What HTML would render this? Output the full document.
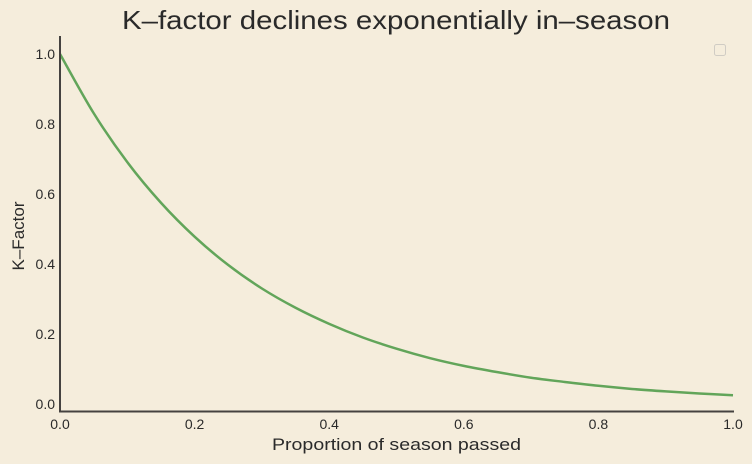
<!DOCTYPE html>
<html><head><meta charset="utf-8"><style>
body{margin:0;background:#f5eddc;}
svg{display:block;font-family:"Liberation Sans",sans-serif;}
</style></head><body>
<svg id="chart" width="752" height="464">
<rect width="752" height="464" fill="#f5eddc"/>
<text x="122" y="29" font-size="26" fill="#2a2a2a" textLength="548" lengthAdjust="spacingAndGlyphs">K–factor declines exponentially in–season</text>
<text x="272" y="450" font-size="17" fill="#2a2a2a" textLength="249" lengthAdjust="spacingAndGlyphs">Proportion of season passed</text>
<text x="0" y="0" transform="translate(24,236) rotate(-90)" font-size="17" fill="#2a2a2a" text-anchor="middle">K–Factor</text>
<g id="ticks"></g>
<path id="curve" fill="none" stroke="#62a55a" stroke-width="2.5"/>
<line x1="60" y1="36" x2="60" y2="412" stroke="#454240" stroke-width="2"/>
<line x1="59" y1="411.5" x2="734" y2="411.5" stroke="#454240" stroke-width="2"/>
<rect x="714.5" y="44.5" width="11" height="11" rx="2" fill="none" stroke="#d0ccc4"/>
</svg>
<script>
const xValues=[0,0.05,0.1,0.15,0.2,0.25,0.3,0.35,0.4,0.45,0.5,0.55,0.6,0.65,0.7,0.75,0.8,0.85,0.9,0.95,1.0];
const kValues=[1,0.831,0.691,0.575,0.478,0.397,0.330,0.275,0.229,0.190,0.158,0.131,0.109,0.091,0.075,0.063,0.052,0.043,0.036,0.030,0.025];
const xTicks=[0,0.2,0.4,0.6,0.8,1.0];
const yTicks=[0,0.2,0.4,0.6,0.8,1.0];
const xTickLabels=["0.0","0.2","0.4","0.6","0.8","1.0"];
const yTickLabels=["0.0","0.2","0.4","0.6","0.8","1.0"];
const sx=v=>60+v*673;
const sy=v=>404-v*350;
const NS="http://www.w3.org/2000/svg";
const g=document.getElementById('ticks');
xTicks.forEach((t,i)=>{const e=document.createElementNS(NS,'text');
e.setAttribute('x',sx(t));e.setAttribute('y',429);e.setAttribute('text-anchor','middle');
e.setAttribute('font-size','14');e.setAttribute('fill','#2a2a2a');e.textContent=xTickLabels[i];


g.appendChild(e);});
yTicks.forEach((t,i)=>{const e=document.createElementNS(NS,'text');
e.setAttribute('x',55);e.setAttribute('y',sy(t)+5);e.setAttribute('text-anchor','end');
e.setAttribute('font-size','14');e.setAttribute('fill','#2a2a2a');e.textContent=yTickLabels[i];


g.appendChild(e);});
let d='';
for(let i=0;i<xValues.length;i++){
  const x=sx(xValues[i]),y=sy(kValues[i]);
  if(i===0){d+='M'+x+','+y;}
  else{const x0=sx(xValues[i-1]),y0=sy(kValues[i-1]);
    const xp=i>1?sx(xValues[i-2]):x0,yp=i>1?sy(kValues[i-2]):y0;
    const xn=i<xValues.length-1?sx(xValues[i+1]):x,yn=i<xValues.length-1?sy(kValues[i+1]):y;
    d+=' C'+(x0+(x-xp)/6)+','+(y0+(y-yp)/6)+' '+(x-(xn-x0)/6)+','+(y-(yn-y0)/6)+' '+x+','+y;}
}
document.getElementById('curve').setAttribute('d',d);
</script>
</body></html>
